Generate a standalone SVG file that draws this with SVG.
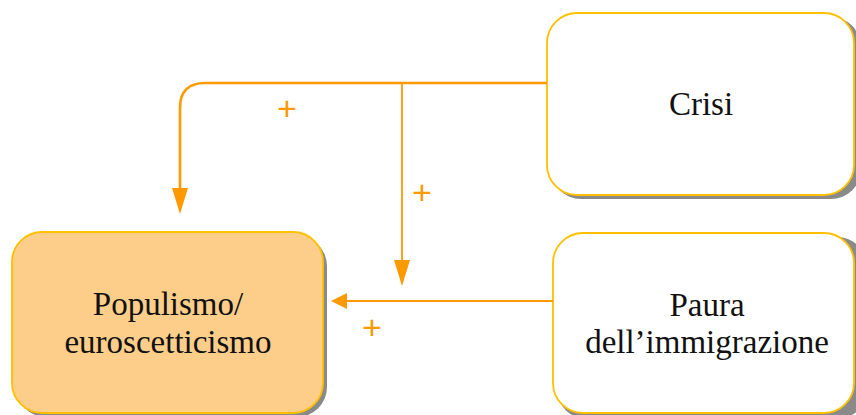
<svg xmlns="http://www.w3.org/2000/svg" width="856" height="415" viewBox="0 0 856 415">
<style>
.shadow{fill:#8a8a8a}
.box{stroke:#FFC000;stroke-width:1.8}
.txt{font-family:"Liberation Serif","DejaVu Serif",serif;font-size:33px;fill:#111;text-anchor:middle}
.conn{fill:none;stroke:#FF9900}
.plus{font-family:"Liberation Sans",Arial,sans-serif;font-size:34px;fill:#FF9900;text-anchor:middle}
</style>
<g id="node-populismo">
<rect class="shadow" x="16" y="236" width="311" height="181" rx="30"/>
<rect class="box" x="12" y="232" width="311" height="181" rx="30" fill="#FDCD8A"/>
<text class="txt" x="168" y="315">Populismo/</text>
<text class="txt" x="168" y="353">euroscetticismo</text>
</g>
<g id="node-crisi">
<rect class="shadow" x="551" y="17" width="310" height="182" rx="30"/>
<rect class="box" x="547" y="13" width="307" height="182" rx="30" fill="#fff"/>
<text class="txt" x="701" y="115">Crisi</text>
</g>
<g id="node-paura">
<rect class="shadow" x="557" y="237" width="310" height="182" rx="30"/>
<rect class="box" x="553" y="233" width="301" height="180" rx="30" fill="#fff"/>
<text class="txt" x="707" y="316">Paura</text>
<text class="txt" x="707" y="353">dell’immigrazione</text>
</g>
<g id="connectors">
<path class="conn" stroke-width="2.6" d="M547,83 L205,83 Q180,83 180,108 L180,190"/>
<path d="M172,188 L188,188 L180,214 Z" fill="#FF9900"/>
<path class="conn" stroke-width="1.8" d="M402,83 L402,262"/>
<path d="M394,260 L410,260 L402,286 Z" fill="#FF9900"/>
<path class="conn" stroke-width="1.8" d="M553,301 L345,301"/>
<path d="M347,293 L347,309 L331,301 Z" fill="#FF9900"/>
<text class="plus" x="287" y="119.5">+</text>
<text class="plus" x="422" y="203.5">+</text>
<text class="plus" x="372" y="338.5">+</text>
</g>
</svg>
